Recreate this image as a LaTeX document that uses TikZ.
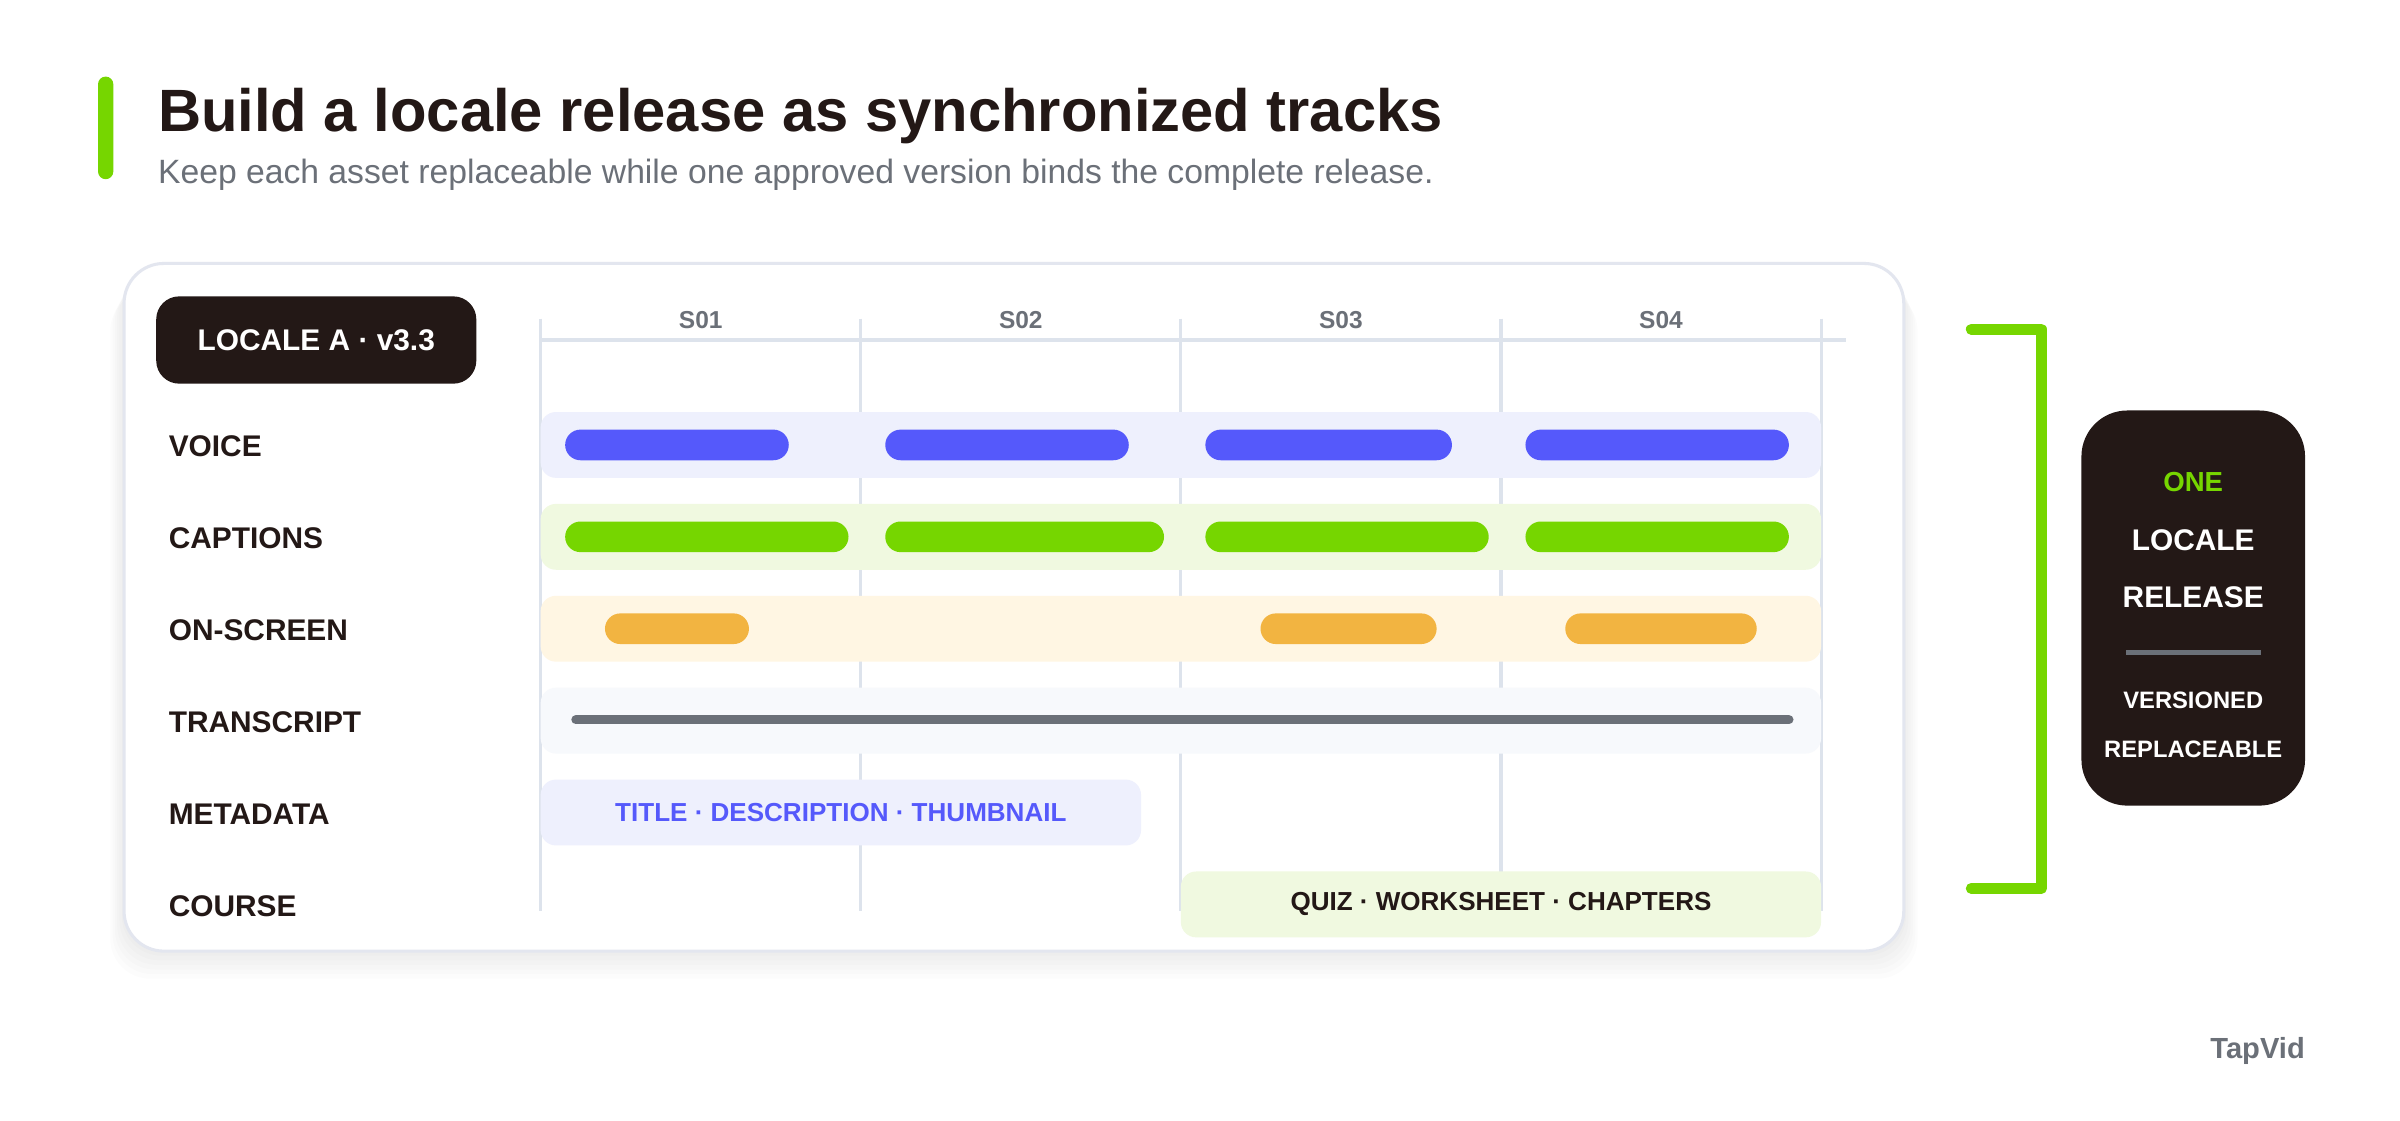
\documentclass[tikz,border=0pt]{standalone}
\usepackage{fontspec}
\setmainfont{Liberation Sans}
\usetikzlibrary{positioning, calc}

\definecolor{ink}{HTML}{231816}
\definecolor{lime}{HTML}{76D600}
\definecolor{violet}{HTML}{5559FB}
\definecolor{amber}{HTML}{F2B441}
\definecolor{slate}{HTML}{6B7078}
\definecolor{gridc}{HTML}{DDE3EC}
\definecolor{lavbg}{HTML}{EEF0FD}
\definecolor{limebg}{HTML}{F0F9E0}
\definecolor{amberbg}{HTML}{FFF6E3}
\definecolor{greybg}{HTML}{F7F9FC}
\definecolor{cardline}{HTML}{E3E6EF}

\newcommand{\fsz}[1]{\bfseries\fontsize{#1}{#1}\selectfont}

\begin{document}
\begin{tikzpicture}[x=1pt, y=-1pt,
    rowlabel/.style={anchor=west, inner sep=0pt, text=ink, font=\fsz{19.5}},
    collabel/.style={inner sep=0pt, text=slate, font=\fsz{16}},
    gridline/.style={draw=gridc, line width=2pt},
    trackbg/.style={rounded corners=10pt, minimum width=836pt, minimum height=43pt, inner sep=0pt},
    seg/.style={rounded corners=10pt, minimum height=20pt, inner sep=0pt},
    chip/.style={rounded corners=10pt, minimum height=43pt, inner sep=0pt, font=\fsz{17}},
    sidetext/.style={inner sep=0pt, text=white}]
    \useasboundingbox (0,0) rectangle (1567,731.3);
    \fill[white] (0,0) rectangle (1567,731.3);

    % heading
    \fill[lime, rounded corners=5pt] (64,50) rectangle (74,117);
    \node[anchor=base west, inner sep=0pt, text=ink, font=\fsz{39}] (title) at (103,86) {Build a locale release as synchronized tracks};
    \node[anchor=base west, inner sep=0pt, text=slate, font=\fontsize{22}{22}\selectfont] (sub) at (103,120) {Keep each asset replaceable while one approved version binds the complete release.};

    % card with soft shadow
    \foreach \s in {3,6,...,18}
        \fill[black, opacity=0.012, rounded corners=26pt] (81-\s*0.5,172+\s) rectangle (1243+\s*0.5,621+\s);
    \node[draw=cardline, line width=2pt, fill=white, rounded corners=26pt, minimum width=1162pt, minimum height=449pt] (card) at (662,396.5) {};

    \node[fill=ink, rounded corners=15pt, minimum width=209pt, minimum height=57pt, text=white, font=\fsz{19.5}] (loc) at (206.5,222) {LOCALE A · v3.3};

    % grid
    \draw[gridline] (352,222) -- (1205,222);
    \foreach \x in {353,562,771,980,1189}
        \draw[gridline] (\x,208) -- (\x,595);
    \node[collabel] (S1) at (457.5,209) {S01};
    \node[collabel] (S2) at (666.5,209) {S02};
    \node[collabel] (S3) at (875.5,209) {S03};
    \node[collabel] (S4) at (1084.5,209) {S04};

    % rows
    \node[rowlabel] (voice) at (110,291.5) {VOICE};
    \node[rowlabel] (capt) at (110,351.5) {CAPTIONS};
    \node[rowlabel] (onscr) at (110,411.5) {ON-SCREEN};
    \node[rowlabel] (trans) at (110,471.5) {TRANSCRIPT};
    \node[rowlabel] (meta) at (110,531.5) {METADATA};
    \node[rowlabel] (course) at (110,591.5) {COURSE};

    \node[trackbg, fill=lavbg] (tV) at (771,290.5) {};
    \node[trackbg, fill=limebg] (tC) at (771,350.5) {};
    \node[trackbg, fill=amberbg] (tO) at (771,410.5) {};
    \node[trackbg, fill=greybg] (tT) at (771,470.5) {};

    \node[seg, fill=violet, minimum width=146pt] (V1) at (442,290.5) {};
    \node[seg, fill=violet, minimum width=159pt] (V2) at (657.5,290.5) {};
    \node[seg, fill=violet, minimum width=161pt] (V3) at (867.5,290.5) {};
    \node[seg, fill=violet, minimum width=172pt] (V4) at (1082,290.5) {};

    \node[seg, fill=lime, minimum width=185pt] (C1) at (461.5,350.5) {};
    \node[seg, fill=lime, minimum width=182pt] (C2) at (669,350.5) {};
    \node[seg, fill=lime, minimum width=185pt] (C3) at (879.5,350.5) {};
    \node[seg, fill=lime, minimum width=172pt] (C4) at (1082,350.5) {};

    \node[seg, fill=amber, minimum width=94pt] (O1) at (442,410.5) {};
    \node[seg, fill=amber, minimum width=115pt] (O3) at (880.5,410.5) {};
    \node[seg, fill=amber, minimum width=125pt] (O4) at (1084.5,410.5) {};

    \coordinate (T0) at (376,470);
    \coordinate (T1) at (1168,470);
    \draw[slate, line width=6pt, line cap=round] (T0) -- (T1);

    \node[chip, fill=lavbg, text=violet, minimum width=392pt] (md) at (549,530.5) {TITLE · DESCRIPTION · THUMBNAIL};
    \node[chip, fill=limebg, text=ink, minimum width=418pt] (cs) at (980,590.5) {QUIZ · WORKSHEET · CHAPTERS};

    % bracket and release badge
    \coordinate (b1) at (1287,215);
    \coordinate (b2) at (1333,215);
    \coordinate (b3) at (1333,580);
    \coordinate (b4) at (1287,580);
    \draw[lime, line width=7pt, line cap=round, line join=round] (b1) -- (b2) -- (b3) -- (b4);

    \node[fill=ink, rounded corners=30pt, minimum width=146pt, minimum height=258pt] (rel) at (1432,397) {};
    \node[sidetext, text=lime, font=\fsz{18}] (one) at (1432,315) {ONE};
    \node[sidetext, font=\fsz{19.5}] (lc) at (1432,353) {LOCALE};
    \node[sidetext, font=\fsz{19.5}] (rl) at (1432,390) {RELEASE};
    \coordinate (r0) at (1388,426);
    \coordinate (r1) at (1476,426);
    \draw[slate, line width=3pt] (r0) -- (r1);
    \node[sidetext, font=\fsz{15.5}] (vs) at (1432,457) {VERSIONED};
    \node[sidetext, font=\fsz{15.5}] (rp) at (1432,489) {REPLACEABLE};

    \node[anchor=east, inner sep=0pt, text=slate, font=\fsz{19}] (brand) at (1505,686) {TapVid};
\end{tikzpicture}
\end{document}
